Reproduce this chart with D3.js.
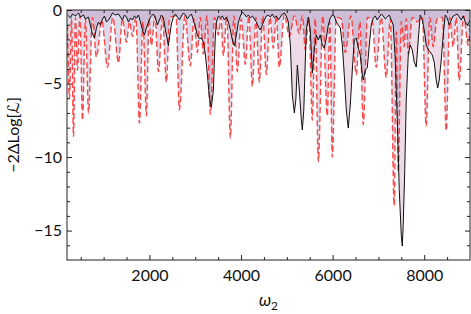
<!DOCTYPE html>
<html>
<head>
<meta charset="utf-8">
<script src="https://cdn.jsdelivr.net/npm/d3@7"></script>
<style>
  body { margin: 0; background: #fff; }
  svg text { font-family: "Lato", "DejaVu Sans", sans-serif; fill: #111; }
</style>
</head>
<body>
<div id="chart"></div>
<script>
// omega_2 vs -2 dLog[L]
const blackCurve = [
  [211,-0.34],[276,-0.54],[320,-0.27],[385,-0.41],[451,-0.2],[494,-0.48],[560,-0.34],[603,-0.61],
  [669,-0.48],[713,-1.09],[756,-1.63],[800,-1.9],[843,-1.22],[887,-0.82],[931,-1.02],[975,-0.61],
  [1018,-0.41],[1062,-0.82],[1106,-0.68],[1149,-0.48],[1193,-0.2],[1258,-0.34],[1324,-0.27],[1367,-0.48],
  [1411,-0.68],[1455,-0.34],[1498,-0.48],[1542,-0.82],[1586,-0.54],[1629,-0.68],[1673,-0.41],[1717,-0.54],
  [1760,-0.34],[1804,-0.82],[1847,-1.36],[1891,-1.7],[1935,-1.22],[1978,-0.82],[2022,-0.48],[2087,-0.27],
  [2131,-0.54],[2175,-1.02],[2218,-0.68],[2262,-0.34],[2306,-0.54],[2349,-1.36],[2393,-2.04],[2415,-2.45],
  [2436,-1.9],[2480,-0.95],[2524,-0.48],[2567,-0.27],[2611,-0.48],[2655,-0.68],[2698,-0.41],[2742,-0.2],
  [2786,-0.34],[2829,-0.61],[2873,-0.41],[2916,-0.27],[2960,-0.68],[3004,-1.16],[3047,-1.7],[3091,-1.97],
  [3135,-1.9],[3178,-2.18],[3222,-3.06],[3266,-4.42],[3309,-5.99],[3353,-6.6],[3397,-5.44],[3418,-3.4],
  [3440,-1.7],[3462,-0.82],[3506,-0.41],[3549,-0.54],[3593,-0.41],[3637,-0.68],[3680,-0.48],[3724,-0.82],
  [3767,-1.36],[3811,-2.04],[3855,-2.45],[3898,-1.7],[3942,-0.82],[3986,-0.41],[4029,-0.14],[4073,-0.27],
  [4117,-0.48],[4160,-0.34],[4204,-0.54],[4248,-0.41],[4291,-0.61],[4335,-0.82],[4379,-1.16],[4422,-1.36],
  [4466,-1.02],[4509,-0.68],[4553,-0.41],[4597,-0.34],[4640,-0.48],[4684,-0.27],[4728,-0.54],[4771,-0.41],
  [4815,-0.68],[4859,-0.48],[4902,-0.27],[4946,-0.2],[4990,-0.41],[5033,-0.82],[5077,-2.38],[5120,-5.78],
  [5164,-7.0],[5197,-6.12],[5230,-3.74],[5273,-5.44],[5317,-7.48],[5339,-8.16],[5371,-6.8],[5404,-3.4],
  [5426,-1.36],[5469,-0.48],[5513,-1.36],[5557,-4.29],[5600,-2.72],[5644,-1.7],[5688,-2.04],[5731,-1.7],
  [5775,-2.38],[5819,-2.59],[5862,-1.9],[5906,-1.02],[5950,-0.54],[5993,-0.34],[6037,-0.41],[6081,-0.82],
  [6124,-1.02],[6168,-1.22],[6212,-2.38],[6255,-4.42],[6299,-6.8],[6342,-8.03],[6386,-6.46],[6430,-4.08],
  [6473,-2.04],[6517,-1.9],[6561,-2.59],[6604,-3.06],[6648,-4.42],[6670,-4.76],[6713,-4.08],[6757,-3.95],
  [6801,-2.38],[6844,-1.02],[6888,-0.54],[6932,-0.41],[6975,-0.68],[7019,-0.48],[7063,-0.27],[7106,-0.41],
  [7150,-0.61],[7194,-0.48],[7237,-0.34],[7281,-0.68],[7324,-1.02],[7368,-3.4],[7412,-7.48],[7455,-12.2],
  [7499,-15.3],[7521,-16.05],[7542,-14.6],[7575,-10.9],[7608,-6.12],[7652,-3.06],[7695,-2.38],[7739,-2.72],
  [7782,-3.54],[7826,-3.88],[7870,-2.04],[7913,-0.34],[7957,-0.68],[8001,-1.36],[8044,-2.38],[8088,-2.72],
  [8132,-2.86],[8175,-3.06],[8219,-3.54],[8262,-4.76],[8295,-5.31],[8328,-4.76],[8372,-3.4],[8415,-1.7],
  [8459,-0.34],[8502,-0.54],[8546,-1.02],[8590,-0.68],[8633,-0.41],[8677,-0.34],[8721,-0.27],[8764,-0.48],
  [8808,-0.68],[8852,-0.41],[8895,-0.82],[8939,-1.02],[8983,-0.82],[9004,-0.68]
];

// red dashed curve: tops and dips
const redCurve = [
  [211,-1.0],[254,-6.0],[298,-0.6],[342,-8.6],[385,-0.5],[429,-4.1],[483,-0.4],[538,-7.5],
  [603,-0.6],[669,-7.0],[756,-0.5],[843,-3.2],[960,-0.7],[1084,-3.9],[1200,-0.5],[1324,-3.6],
  [1410,-0.6],[1498,-2.2],[1565,-0.8],[1629,-1.8],[1705,-0.5],[1782,-7.7],[1858,-0.8],[1935,-7.2],
  [1990,-0.6],[2044,-2.4],[2120,-0.4],[2197,-4.2],[2285,-0.5],[2371,-4.9],[2440,-0.5],[2580,-0.4],
  [2655,-6.8],[2775,-0.4],[2895,-3.8],[2970,-0.6],[3047,-2.9],[3110,-0.5],[3178,-3.0],[3255,-0.4],
  [3331,-7.1],[3420,-0.5],[3506,-1.7],[3560,-0.5],[3615,-3.1],[3690,-0.4],[3767,-8.7],[3845,-0.4],
  [3920,-4.2],[4005,-0.6],[4095,-3.7],[4170,-0.4],[4248,-5.2],[4325,-0.5],[4400,-4.9],[4475,-0.4],
  [4553,-4.4],[4630,-0.5],[4706,-2.6],[4770,-0.4],[4837,-3.9],[4945,-0.3],[5055,-1.8],[5165,-0.4],
  [5273,-1.6],[5340,-0.4],[5404,-2.7],[5480,-0.5],[5557,-7.5],[5620,-0.6],[5688,-10.3],[5785,-0.4],
  [5884,-7.2],[5940,-0.8],[5993,-10.0],[6080,-0.5],[6190,-0.6],[6277,-2.9],[6400,-0.4],[6517,-4.4],
  [6595,-0.8],[6670,-7.8],[6760,-0.5],[6860,-0.6],[6953,-3.9],[7060,-0.5],[7171,-4.6],[7260,-0.6],
  [7346,-13.3],[7390,-1.5],[7433,-11.0],[7500,-0.8],[7564,-2.5],[7608,-0.6],[7652,-3.0],[7740,-0.5],
  [7850,-0.8],[7960,-0.5],[8044,-7.9],[8120,-0.5],[8197,-2.5],[8280,-0.6],[8400,-0.5],[8481,-8.2],
  [8557,-0.5],[8633,-2.5],[8700,-0.5],[8764,-4.8],[8860,-0.4],[8961,-2.4],[9004,-1.0]
];

const xMajorTicks = [2000, 4000, 6000, 8000];
const xMinorTicks = [500, 1000, 1500, 2500, 3000, 3500, 4500, 5000, 5500, 6500, 7000, 7500, 8500];
const yMajorTicks = [0, -5, -10, -15];
const yMinorTicks = [-1, -2, -3, -4, -6, -7, -8, -9, -11, -12, -13, -14, -16];

const margin = {top: 10, right: 1, bottom: 54, left: 67},
    width = 471 - margin.left - margin.right,
    height = 314 - margin.top - margin.bottom;

const svg = d3.select("#chart")
  .append("svg")
    .attr("width", 471)
    .attr("height", 314)
  .append("g")
    .attr("transform", `translate(${margin.left},${margin.top})`);

const x = d3.scaleLinear()
  .domain([200, 9000])
  .range([0, width]);

const y = d3.scaleLinear()
  .domain([-17, 0])
  .range([height, 0]);

svg.append("clipPath")
    .attr("id", "plotclip")
  .append("rect")
    .attr("width", width)
    .attr("height", height);

const plot = svg.append("g").attr("clip-path", "url(#plotclip)");

// fills down from the axis (y = 0) to each curve
const area = d3.area()
  .x(d => x(d[0]))
  .y0(y(0))
  .y1(d => y(d[1]));

plot.append("path")
  .datum(redCurve)
  .attr("d", area.curve(d3.curveMonotoneX))
  .attr("fill", "#2b2b8f")
  .attr("fill-opacity", 0.17);

plot.append("path")
  .datum(blackCurve)
  .attr("d", area.curve(d3.curveLinear))
  .attr("fill", "#8f2b6a")
  .attr("fill-opacity", 0.17);

// red dashed line
plot.append("path")
  .datum(redCurve)
  .attr("d", d3.line().x(d => x(d[0])).y(d => y(d[1])).curve(d3.curveMonotoneX))
  .attr("fill", "none")
  .attr("stroke", "#ff2a2a")
  .attr("stroke-opacity", 0.85)
  .attr("stroke-width", 1.4)
  .attr("stroke-dasharray", "6,3");

// black line
plot.append("path")
  .datum(blackCurve)
  .attr("d", d3.line().x(d => x(d[0])).y(d => y(d[1])))
  .attr("fill", "none")
  .attr("stroke", "#111")
  .attr("stroke-width", 1)
  .attr("stroke-linejoin", "round");

// frame with inward ticks on all four sides
const fmt = d3.format("d");

svg.append("g")
  .attr("transform", `translate(0,${height})`)
  .call(d3.axisBottom(x).tickValues(xMajorTicks).tickSize(-5).tickPadding(10).tickFormat(fmt));
svg.append("g")
  .attr("transform", `translate(0,${height})`)
  .call(d3.axisBottom(x).tickValues(xMinorTicks).tickSize(-3).tickFormat(""));
svg.append("g")
  .call(d3.axisTop(x).tickValues(xMajorTicks).tickSize(-5).tickFormat(""));
svg.append("g")
  .call(d3.axisTop(x).tickValues(xMinorTicks).tickSize(-3).tickFormat(""));

svg.append("g")
  .call(d3.axisLeft(y).tickValues(yMajorTicks).tickSize(-5).tickPadding(5).tickFormat(fmt));
svg.append("g")
  .call(d3.axisLeft(y).tickValues(yMinorTicks).tickSize(-3).tickFormat(""));
svg.append("g")
  .attr("transform", `translate(${width},0)`)
  .call(d3.axisRight(y).tickValues(yMajorTicks).tickSize(-5).tickFormat(""));
svg.append("g")
  .attr("transform", `translate(${width},0)`)
  .call(d3.axisRight(y).tickValues(yMinorTicks).tickSize(-3).tickFormat(""));

svg.selectAll(".domain").remove();
svg.selectAll(".tick line").attr("stroke", "#222");
svg.selectAll(".tick text")
  .style("font-size", "16px")
  .attr("fill", "#111");

svg.append("rect")
  .attr("width", width)
  .attr("height", height)
  .attr("fill", "none")
  .attr("stroke", "#222")
  .attr("stroke-width", 1);

// axis titles
const xt = svg.append("text")
  .attr("x", width / 2)
  .attr("y", height + 46)
  .attr("text-anchor", "middle")
  .style("font-size", "17px");
xt.append("tspan").style("font-style", "italic").text("ω");
xt.append("tspan").attr("dy", 4).style("font-size", "12px").text("2");

svg.append("text")
  .attr("transform", `translate(${-48},${height / 2}) rotate(-90)`)
  .attr("text-anchor", "middle")
  .style("font-size", "16px")
  .text("−2ΔLog[ℒ]");
</script>
</body>
</html>
